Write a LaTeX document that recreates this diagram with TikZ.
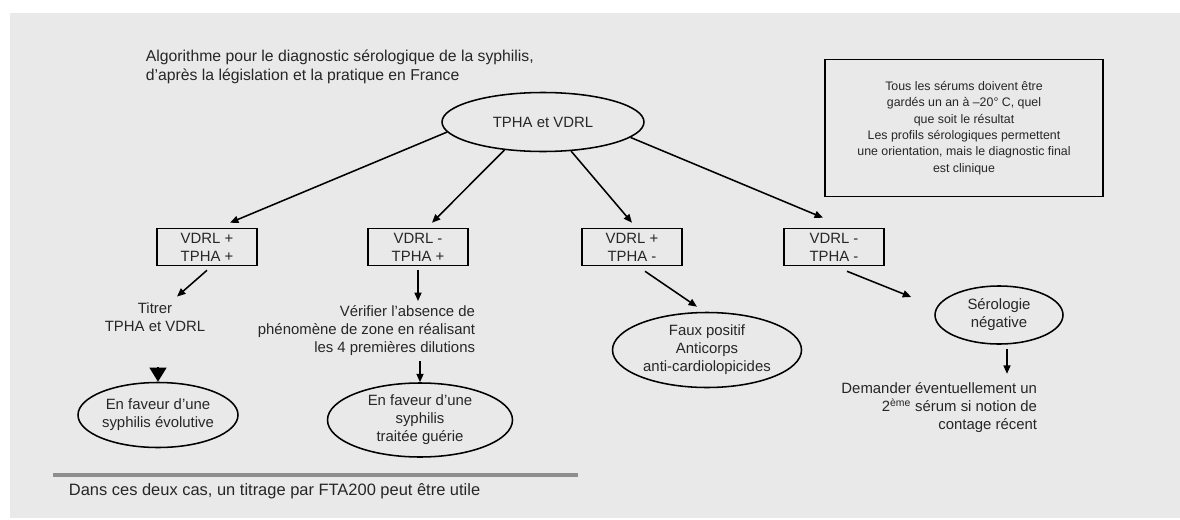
\documentclass[tikz,border=0pt]{standalone}
\usepackage{fontspec}
\setmainfont{Liberation Sans}
\usetikzlibrary{positioning,arrows.meta,calc,shapes}
\definecolor{panelgray}{HTML}{E9E9E9}
\definecolor{rulegray}{HTML}{8E8E8E}
\newdimen\pxu \pxu=0.025cm

\begin{document}
\begin{tikzpicture}[
    x=0.025cm, y=-0.025cm,
    every node/.style={font=\fontsize{10.6}{12.8}\selectfont, text=black!85},
    result/.style={draw, line width=1.1pt, align=center, minimum width=100\pxu, minimum height=37\pxu, inner sep=1pt},
    outcome/.style={draw, ellipse, line width=1.1pt, align=center, inner sep=0pt},
    arrow/.style={-{Triangle[length=6pt,width=5pt]}, line width=1.1pt},
    bigarrow/.style={-{Triangle[length=10pt,width=12pt]}, line width=1.1pt}
]
% Background
\useasboundingbox (0,0) rectangle (1180,520);
\fill[panelgray] (10,13) rectangle (1180,518);

% Nodes
\node[anchor=north west, align=left, font=\fontsize{11.2}{13.5}\selectfont] (title) at (141,45) {Algorithme pour le diagnostic sérologique de la syphilis,\\d'après la législation et la pratique en France};
\node[draw, line width=1.1pt, minimum width=278\pxu, minimum height=137\pxu, align=center, font=\fontsize{8.8}{11.7}\selectfont] (keep) at (964,128) {Tous les sérums doivent être\\gardés un an à –20° C, quel\\que soit le résultat\\Les profils sérologiques permettent\\une orientation, mais le diagnostic final\\est clinique};
\node[outcome, minimum width=202\pxu, minimum height=59\pxu] (tests) at (543,122) {TPHA et VDRL};

\node[result] (pp) at (207,247) {VDRL +\\TPHA +};
\node[result] (mp) at (418,247) {VDRL -\\TPHA +};
\node[result] (pm) at (632,247) {VDRL +\\TPHA -};
\node[result] (mm) at (834,247) {VDRL -\\TPHA -};

\node[align=center] (titrer) at (155,317) {Titrer\\TPHA et VDRL};
\node[outcome, minimum width=160\pxu, minimum height=65\pxu] (evol) at (158,415) {En faveur d'une\\syphilis évolutive};
\node[anchor=north east, align=right] (verif) at (480,301) {Vérifier l'absence de\\phénomène de zone en réalisant\\les 4 premières dilutions};
\node[outcome, minimum width=185\pxu, minimum height=74\pxu] (traitee) at (420,420) {En faveur d'une\\syphilis\\traitée guérie};
\node[outcome, minimum width=189\pxu, minimum height=75\pxu] (faux) at (707,350) {Faux positif\\Anticorps\\anti-cardiolopicides};
\node[outcome, minimum width=128\pxu, minimum height=58\pxu] (neg) at (999,315) {Sérologie\\négative};
\node[anchor=north east, align=right] (demander) at (1042,378) {Demander éventuellement un\\2\textsuperscript{ème} sérum si notion de\\contage récent};

\draw[rulegray, line width=2.2pt] (53,475) -- (578,475);
\node[anchor=west, font=\fontsize{11.7}{13}\selectfont] (cases) at (64,491) {Dans ces deux cas, un titrage par FTA200 peut être utile};

% Arrows
\draw[arrow] (tests.186) -- ($(pp.north)+(23,-5)$);
\draw[arrow] (tests.216) -- ($(mp.north)+(14,-5)$);
\draw[arrow] (tests.314) -- ($(pm.north)+(0,-5)$);
\draw[arrow] (tests.350) -- ($(mm.north)+(-11,-10)$);
\draw[arrow] ($(pp.south)+(0,4)$) -- ($(titrer.north)+(22,-1)$);
\draw[bigarrow, shorten <=22pt] (titrer.south -| evol.north) -- (evol.north);
\draw[arrow] ($(mp.south)+(0,4)$) -- (mp.south |- verif.north);
\draw[arrow] (traitee.north |- verif.south) -- (traitee.north);
\draw[arrow] ($(pm.south)+(13,5)$) -- ($(faux.north)+(-10,-5)$);
\draw[arrow] ($(mm.south)+(13,5)$) -- ($(neg.west)+(-23,-18)$);
\draw[arrow] ($(neg.south)+(8,4)$) -- ($(neg.south)+(8,29)$);

\end{tikzpicture}
\end{document}
